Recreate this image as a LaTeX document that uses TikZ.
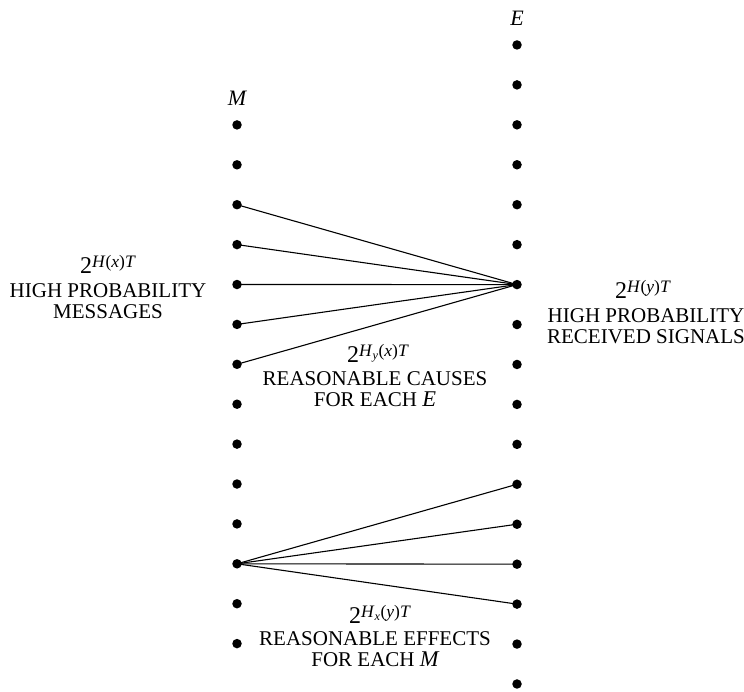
\documentclass[tikz,border=0pt]{standalone}
\usepackage{fontspec}
\setmainfont{Liberation Serif}
\usetikzlibrary{positioning}

\newcommand{\twopow}[1]{{\fontsize{24}{24}\selectfont 2}\raisebox{0.52em}{\fontsize{17.5}{17.5}\selectfont #1}}
\newcommand{\bigit}[1]{{\itshape\fontsize{22.5}{20}\selectfont #1}}

\tikzset{
  dot/.style={shape=circle,fill=black,inner sep=0pt,minimum size=9.5pt},
  power/.style={inner sep=0pt,anchor=base},
  caps/.style={inner sep=0pt,align=center,font=\fontsize{21}{21}\selectfont},
  colname/.style={anchor=base,font=\itshape\fontsize{22}{22}\selectfont},
  link/.style={line width=1.1pt}
}

\begin{document}
\begin{tikzpicture}[x=1pt,y=-1pt]
\useasboundingbox (0,0) rectangle (744,691);
% messages
\node[colname] at (237,105) (M) {M};
\foreach \i in {1,...,14}
  \node[dot] at (237,{85+39.9*\i}) (m\i) {};
% received signals
\node[colname] at (517,25) (E) {E};
\foreach \i in {1,...,17}
  \node[dot] at (517,{5+39.94*\i}) (e\i) {};
% causes
\draw[link] (m3.center) -- (e7.center);
\draw[link] (m4.center) -- (e7.center);
\draw[link] (m5.center) -- (e7.center);
\draw[link] (m6.center) -- (e7.center);
\draw[link] (m7.center) -- (e7.center);
% effects
\draw[link] (m12.center) -- (e12.center);
\draw[link] (m12.center) -- (e13.center);
\draw[link] (m12.center) -- (e14.center);
\draw[link] (m12.center) -- (e15.center);
% labels
\node[power] at (108,273) (msgpow) {\twopow{\textit{H}(\textit{x})\textit{T}}};
\node[caps,below=10pt of msgpow] (msgtxt) {HIGH PROBABILITY\\MESSAGES};
\node[power] at (643,298) (sigpow) {\twopow{\textit{H}(\textit{y})\textit{T}}};
\node[caps,below=10pt of sigpow,xshift=3pt] (sigtxt) {HIGH PROBABILITY\\RECEIVED SIGNALS};
\node[power] at (378,362) (causepow) {\twopow{\textit{H}\textsubscript{\textit{y}}(\textit{x})\textit{T}}};
\node[caps,below=9pt of causepow,xshift=-3pt] (causetxt) {REASONABLE CAUSES\\FOR EACH \bigit{E}};
\node[power] at (380,623) (effpow) {\twopow{\textit{H}\textsubscript{\textit{x}}(\textit{y})\textit{T}}};
\node[caps,below=8pt of effpow,xshift=-5pt] (efftxt) {REASONABLE EFFECTS\\FOR EACH \bigit{M}};
\end{tikzpicture}
\end{document}
